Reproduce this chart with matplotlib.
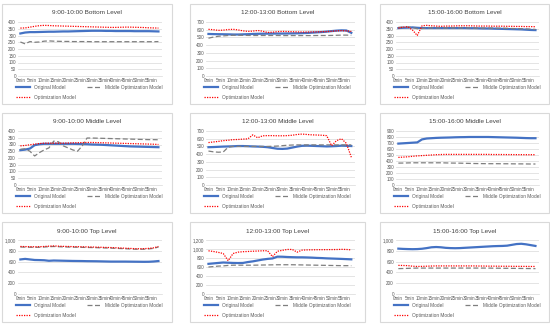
import matplotlib.pyplot as plt
from matplotlib.patches import Rectangle

plt.rcParams['font.family'] = ['Liberation Sans', 'DejaVu Sans']

# minutes sampled every 2 min
minutes = list(range(0, 60, 2))
tick_pos = list(range(0, 60, 5))
tick_labels = [f"{m}min" for m in tick_pos]

# ---- 9:00-10:00 Bottom Level
bot9_orig = [315, 322, 325, 325, 326, 327, 328, 328, 329, 330, 330, 331, 332, 333, 334,
             335, 335, 335, 334, 334, 333, 333, 333, 333, 332, 332, 332, 332, 331, 330]
bot9_mid = [252, 238, 255, 250, 252, 258, 260, 258, 257, 256, 256, 255, 255, 255, 255,
            254, 254, 254, 254, 254, 254, 254, 254, 254, 254, 254, 254, 254, 254, 255]
bot9_opt = [355, 356, 362, 368, 373, 375, 374, 372, 371, 370, 369, 368, 367, 366, 365,
            364, 363, 362, 361, 360, 360, 361, 362, 362, 361, 360, 359, 357, 356, 355]

# ---- 12:00-13:00 Bottom Level
bot12_orig = [545, 543, 542, 541, 540, 538, 538, 540, 542, 545, 547, 548, 549, 550, 550,
              550, 551, 552, 553, 555, 558, 562, 566, 570, 575, 582, 588, 592, 590, 560]
bot12_mid = [490, 505, 515, 520, 525, 528, 528, 527, 526, 525, 525, 525, 525, 525, 525,
             524, 524, 524, 524, 524, 524, 524, 525, 525, 525, 526, 528, 530, 530, 528]
bot12_opt = [605, 600, 592, 595, 602, 605, 598, 585, 578, 582, 590, 580, 565, 568, 575,
             578, 576, 574, 572, 570, 570, 571, 572, 574, 576, 580, 585, 588, 585, 578]

# ---- 15:00-16:00 Bottom Level
bot15_orig = [355, 357, 358, 360, 357, 355, 355, 355, 355, 355, 355, 355, 355, 355, 355,
              354, 354, 353, 352, 352, 351, 350, 349, 348, 347, 346, 345, 343, 341, 340]
bot15_mid = [360, 362, 363, 360, 350, 352, 355, 356, 356, 356, 356, 356, 356, 356, 356,
             356, 355, 355, 355, 355, 355, 354, 354, 353, 352, 351, 350, 349, 347, 345]
bot15_opt = [355, 362, 365, 340, 300, 372, 375, 372, 370, 368, 370, 370, 371, 372, 372,
             372, 371, 370, 370, 370, 369, 369, 369, 368, 368, 367, 367, 366, 366, 365]

# ---- 9:00-10:00 Middle Level
mid9_orig = [258, 262, 270, 295, 302, 305, 305, 305, 305, 305, 305, 305, 304, 303, 302,
             300, 299, 298, 296, 294, 292, 290, 288, 286, 285, 284, 283, 282, 281, 280]
mid9_mid = [265, 268, 250, 215, 240, 260, 275, 325, 320, 290, 275, 260, 250, 290, 348,
            348, 347, 346, 345, 344, 343, 342, 341, 340, 339, 338, 337, 336, 336, 335]
mid9_opt = [290, 293, 298, 303, 307, 310, 310, 310, 310, 310, 311, 312, 313, 314, 315,
            315, 314, 313, 312, 311, 310, 309, 308, 307, 306, 305, 304, 303, 302, 300]

# ---- 12:00-13:00 Middle Level
mid12_orig = [490, 492, 495, 498, 500, 502, 505, 505, 503, 500, 498, 495, 490, 480, 470,
              468, 472, 485, 498, 508, 510, 508, 505, 503, 500, 502, 505, 510, 508, 505]
mid12_mid = [440, 430, 425, 428, 490, 500, 500, 500, 500, 500, 500, 500, 500, 502, 505,
             510, 515, 518, 520, 520, 520, 520, 520, 520, 520, 520, 520, 520, 520, 520]
mid12_opt = [550, 558, 565, 575, 580, 588, 590, 595, 598, 650, 612, 638, 640, 640, 638,
             638, 640, 645, 655, 660, 655, 650, 648, 645, 640, 510, 575, 600, 540, 360]

# ---- 15:00-16:00 Middle Level
mid15_orig = [690, 695, 700, 705, 710, 760, 775, 780, 785, 788, 790, 792, 795, 797, 798,
              800, 800, 800, 800, 800, 798, 796, 794, 792, 790, 788, 785, 782, 780, 780]
mid15_mid = [365, 366, 368, 370, 370, 370, 370, 370, 370, 370, 368, 366, 365, 364, 362,
             360, 358, 357, 356, 355, 355, 355, 354, 354, 353, 352, 352, 351, 350, 350]
mid15_opt = [460, 465, 470, 478, 485, 490, 495, 500, 505, 508, 510, 510, 510, 510, 510,
             510, 510, 510, 510, 510, 508, 508, 508, 507, 507, 506, 506, 505, 505, 505]

# ---- 9:00-10:00 Top Level
top9_orig = [640, 650, 640, 630, 628, 625, 615, 620, 618, 616, 614, 612, 611, 610, 608,
             607, 606, 604, 602, 600, 600, 600, 600, 599, 598, 597, 596, 597, 602, 610]
top9_mid = [870, 868, 866, 864, 866, 870, 876, 880, 876, 872, 870, 868, 866, 864, 862,
            860, 858, 855, 852, 850, 846, 842, 838, 834, 830, 828, 830, 835, 845, 870]
top9_opt = [880, 878, 876, 874, 876, 880, 886, 890, 886, 882, 880, 878, 876, 874, 872,
            870, 868, 865, 862, 860, 856, 852, 848, 844, 840, 838, 840, 845, 855, 880]

# ---- 12:00-13:00 Top Level
top12_orig = [670, 680, 690, 700, 695, 690, 688, 690, 710, 725, 745, 765, 780, 790, 830,
              828, 822, 818, 815, 815, 812, 808, 802, 798, 792, 788, 784, 780, 775, 770]
top12_mid = [600, 610, 620, 625, 635, 640, 640, 640, 640, 640, 642, 644, 646, 648, 650,
             650, 650, 650, 648, 646, 644, 642, 640, 638, 636, 634, 632, 630, 630, 630]
top12_opt = [960, 945, 925, 900, 740, 900, 930, 940, 945, 950, 955, 960, 962, 830, 950,
             970, 990, 990, 930, 975, 980, 982, 984, 985, 986, 987, 988, 992, 990, 980]

# ---- 15:00-16:00 Top Level
top15_orig = [840, 835, 832, 830, 832, 838, 850, 865, 870, 865, 855, 850, 848, 850, 855,
              860, 865, 870, 875, 880, 885, 888, 890, 895, 910, 925, 930, 920, 905, 890]
top15_mid = [470, 472, 475, 478, 480, 480, 480, 480, 480, 480, 480, 480, 480, 480, 480,
             480, 480, 480, 480, 480, 478, 478, 476, 476, 475, 474, 473, 472, 471, 470]
top15_opt = [530, 528, 525, 515, 510, 512, 515, 518, 520, 520, 520, 520, 520, 520, 520,
             520, 520, 518, 518, 516, 516, 515, 514, 514, 513, 512, 512, 511, 510, 510]

# title, series, y max, y step (row by row)
panels = [
    ("9:00-10:00 Bottom Level", bot9_orig, bot9_mid, bot9_opt, 400, 50),
    ("12:00-13:00 Bottom Level", bot12_orig, bot12_mid, bot12_opt, 700, 100),
    ("15:00-16:00 Bottom Level", bot15_orig, bot15_mid, bot15_opt, 400, 50),
    ("9:00-10:00 Middle Level", mid9_orig, mid9_mid, mid9_opt, 400, 50),
    ("12:00-13:00 Middle Level", mid12_orig, mid12_mid, mid12_opt, 700, 100),
    ("15:00-16:00 Middle Level", mid15_orig, mid15_mid, mid15_opt, 900, 100),
    ("9:00-10:00 Top Level", top9_orig, top9_mid, top9_opt, 1000, 200),
    ("12:00-13:00 Top Level", top12_orig, top12_mid, top12_opt, 1200, 200),
    ("15:00-16:00 Top Level", top15_orig, top15_mid, top15_opt, 1000, 200),
]

W, H = 550, 330
fig = plt.figure(figsize=(5.5, 3.3), dpi=100)

col_x = [2, 190, 380]
col_w = [170, 175, 169]
row_y = [4, 113, 222]
row_h = 100

grey = "#595959"

def fig_box(x, y, w, h):
    return [x / W, 1 - (y + h) / H, w / W, h / H]

for i, (title, orig, mid, opt, ymax, ystep) in enumerate(panels):
    r, c = divmod(i, 3)
    x0, y0, pw = col_x[c], row_y[r], col_w[c]

    # chart border (behind the axes)
    b = fig_box(x0, y0, pw, row_h)
    fig.patches.append(Rectangle((b[0], b[1]), b[2], b[3], transform=fig.transFigure,
                                 facecolor="white", edgecolor="#d9d9d9", lw=0.8, zorder=-1))

    ax = fig.add_axes(fig_box(x0 + 16, y0 + 18, pw - 26, 54))
    ax.patch.set_alpha(0)
    l1, = ax.plot(minutes, orig, color="#4472c4", lw=1.6)
    l2, = ax.plot(minutes, mid, color="#7f7f7f", lw=0.9, ls=(0, (4, 2)))
    l3, = ax.plot(minutes, opt, color="#ff0000", lw=0.9, ls=(0, (1, 1)))

    ax.set_xlim(-1, 59.5)
    ax.set_ylim(0, ymax)
    ax.set_xticks(tick_pos)
    ax.set_xticklabels(tick_labels)
    yt = list(range(0, ymax + 1, ystep))
    ax.set_yticks(yt)
    ax.set_yticklabels([f"{v:,}" for v in yt])
    ax.tick_params(labelsize=3.3, colors=grey, length=0, pad=1.5)
    ax.grid(axis="y", color="#d9d9d9", lw=0.5)
    ax.set_axisbelow(True)
    for s in ["top", "right", "left"]:
        ax.spines[s].set_visible(False)
    ax.spines["bottom"].set_color("#d9d9d9")
    ax.spines["bottom"].set_linewidth(0.5)

    fig.text((x0 + pw / 2) / W, 1 - (y0 + 9) / H, title, ha="center", va="center",
             fontsize=4.6, color="#404040")

    fig.legend([l1, l3, l2], ["Original Model", "Optimization Model", "Middle Optimization Model"],
               loc="upper left", bbox_to_anchor=((x0 + 14) / W, 1 - (y0 + 81) / H),
               bbox_transform=fig.transFigure, ncol=2, frameon=False, fontsize=3.4,
               labelcolor=grey, handlelength=3, handletextpad=0.8, columnspacing=2.4,
               labelspacing=1.0, borderpad=0, borderaxespad=0)

fig.savefig("out.png", dpi=100)
